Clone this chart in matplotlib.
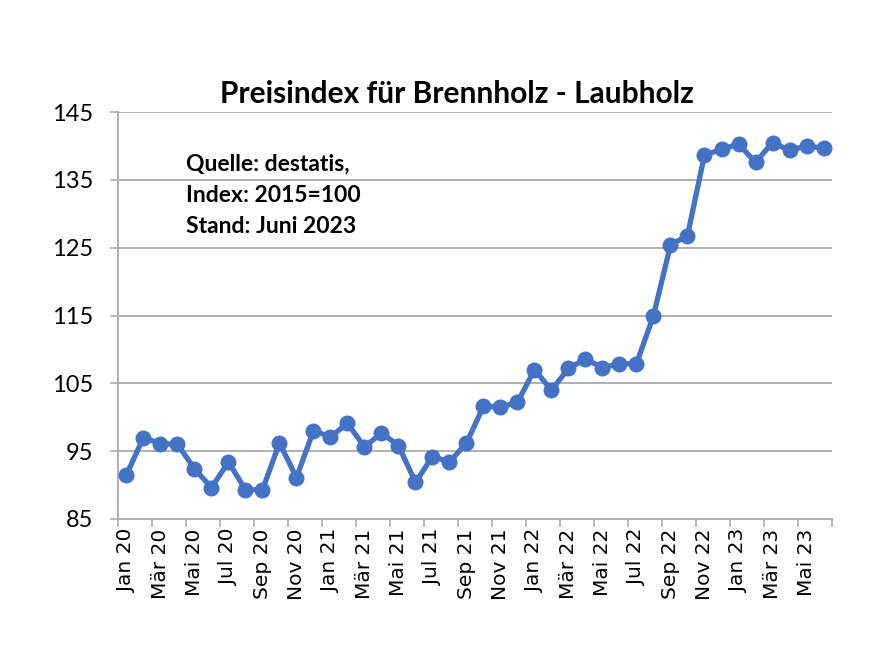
import numpy as np
import matplotlib
matplotlib.use("Agg")
import matplotlib.pyplot as plt

months = ["Jan", "Feb", "Mär", "Apr", "Mai", "Jun",
          "Jul", "Aug", "Sep", "Okt", "Nov", "Dez"]
years = ["20", "21", "22", "23"]
categories = [f"{m} {y}" for y in years for m in months][:42]

values = [91.5, 97.0, 96.1, 96.0, 92.4, 89.6, 93.4, 89.3, 89.3, 96.2,
          91.1, 98.0, 97.1, 99.1, 95.6, 97.7, 95.8, 90.4, 94.2, 93.4,
          96.2, 101.6, 101.5, 102.2, 107.0, 104.0, 107.2, 108.6, 107.3, 107.9,
          107.9, 115.0, 125.4, 126.8, 138.7, 139.5, 140.3, 137.6, 140.5, 139.4,
          140.0, 139.7]

y_ticks = [85, 95, 105, 115, 125, 135, 145]

title = "Preisindex für Brennholz - Laubholz"
note = "Quelle: destatis,\nIndex: 2015=100\nStand: Juni 2023"

blue = "#4472C4"
grid_col = "#b0b0b0"

fig = plt.figure(figsize=(8.87, 6.56), dpi=100)
ax = fig.add_axes([0.133, 0.209, 0.805, 0.620])

x = np.arange(len(values))
ax.plot(x, values, color=blue, lw=3.8, marker="o", ms=11.5,
        markeredgewidth=0, solid_capstyle="round", zorder=3)

ax.set_xlim(-0.5, len(values) - 0.5)
ax.set_ylim(y_ticks[0], y_ticks[-1])
ax.set_yticks(y_ticks)
ax.set_yticklabels([str(v) for v in y_ticks], family="Lato", fontsize=17)
ax.yaxis.grid(True, color=grid_col, lw=1.4)
ax.set_axisbelow(True)

ax.set_xticks(x[::2])
ax.set_xticklabels(categories[::2], rotation=90, family="DejaVu Sans", fontsize=14.5)
ax.set_xticks(np.arange(-0.5, len(values), 2), minor=True)
ax.tick_params(axis="x", which="major", length=0, pad=7)
ax.tick_params(axis="x", which="minor", length=6, color=grid_col, width=1.2)
ax.tick_params(axis="y", length=6, color=grid_col, width=1.2, pad=12)

for side in ["top", "right"]:
    ax.spines[side].set_visible(False)
for side in ["left", "bottom"]:
    ax.spines[side].set_color(grid_col)
    ax.spines[side].set_linewidth(1.4)

fig.text(0.515, 0.857, title, ha="center", va="center",
         family="Lato", fontweight="bold", fontsize=21.5)
ax.text(0.095, 0.897, note, transform=ax.transAxes, ha="left", va="top",
        family="Lato", fontweight="bold", fontsize=16.5, linespacing=1.6)

fig.savefig("out.png", dpi=100)
